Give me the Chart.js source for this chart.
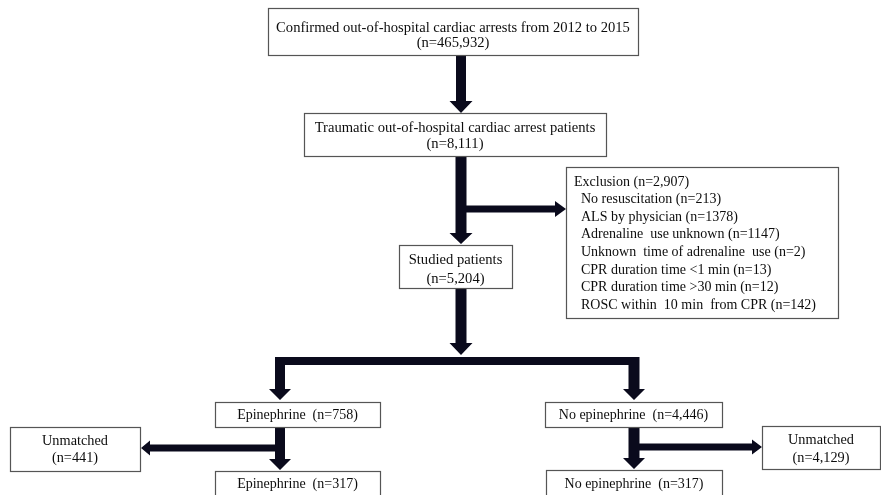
<!DOCTYPE html>
<html>
<head>
<meta charset="utf-8">
<script src="https://cdn.jsdelivr.net/npm/chart.js@4"></script>
<style>
  html, body { margin: 0; padding: 0; background: #fff; }
  #wrap { width: 881px; height: 495px; }
</style>
</head>
<body>
<div id="wrap"><canvas id="flowChart"></canvas></div>
<script>
// flow chart content
const boxTitles = [
    "Confirmed out-of-hospital cardiac arrests from 2012 to 2015",
    "Traumatic out-of-hospital cardiac arrest patients",
    "Studied patients",
    "Epinephrine",
    "No epinephrine",
    "Unmatched",
    "Epinephrine",
    "Unmatched",
    "No epinephrine"
];
const boxCounts = ["465,932", "8,111", "5,204", "758", "4,446", "441", "317", "4,129", "317"];
const exclusionTotal = "2,907";
const exclusionReasons = [
    "No resuscitation",
    "ALS by physician",
    "Adrenaline  use unknown",
    "Unknown  time of adrenaline  use",
    "CPR duration time <1 min",
    "CPR duration time >30 min",
    "ROSC within  10 min  from CPR"
];
const exclusionCounts = ["213", "1378", "1147", "2", "13", "12", "142"];

// layout (chart units, x 0..881, y 0..495 from the top)
const boxLayout = [
    {x0: 268, y0: 8, x1: 638, y1: 55, lines: [28, 43], size: 14.6},
    {x0: 304, y0: 113, x1: 606, y1: 156, lines: [128, 144], size: 14.6},
    {x0: 399, y0: 245, x1: 512, y1: 288, lines: [260, 279], size: 14.6},
    {x0: 215, y0: 402, x1: 380, y1: 427, lines: [415], size: 14},
    {x0: 545, y0: 402, x1: 722, y1: 427, lines: [415], size: 14},
    {x0: 10, y0: 427, x1: 140, y1: 471, lines: [441, 458], size: 14.3},
    {x0: 215, y0: 471, x1: 380, y1: 505, lines: [484], size: 14},
    {x0: 762, y0: 426, x1: 880, y1: 469, lines: [440, 458], size: 14.3},
    {x0: 546, y0: 470, x1: 722, y1: 505, lines: [484], size: 14}
];
const exclusionBox = {x0: 566, y0: 167, x1: 838, y1: 318, firstLine: 182, step: 17.6, indent: 574, subIndent: 581};

// arrows: from (x1,y1) to (x2,y2), shaft width, head width, head length (0 = no head)
const arrows = [
    {x1: 461, y1: 55, x2: 461, y2: 113, w: 10, hw: 23, hl: 12},
    {x1: 461, y1: 156, x2: 461, y2: 244, w: 11, hw: 23, hl: 11},
    {x1: 461, y1: 209, x2: 566, y2: 209, w: 7, hw: 16, hl: 11},
    {x1: 461, y1: 288, x2: 461, y2: 355, w: 11, hw: 23, hl: 12},
    {x1: 276, y1: 361, x2: 639, y2: 361, w: 8, hw: 0, hl: 0},
    {x1: 280, y1: 357, x2: 280, y2: 400, w: 10, hw: 22, hl: 11},
    {x1: 634, y1: 357, x2: 634, y2: 400, w: 11, hw: 22, hl: 11},
    {x1: 280, y1: 427, x2: 280, y2: 470, w: 10, hw: 22, hl: 11},
    {x1: 280, y1: 448, x2: 141, y2: 448, w: 7, hw: 15, hl: 9},
    {x1: 634, y1: 427, x2: 634, y2: 469, w: 11, hw: 22, hl: 11},
    {x1: 634, y1: 447, x2: 762, y2: 447, w: 7, hw: 15, hl: 10}
];

const fontFamily = "'Liberation Serif', 'Times New Roman', serif";

const flowPlugin = {
    id: "flow",
    afterDraw(chart) {
        const c = chart.ctx;
        const sx = chart.scales.x, sy = chart.scales.y;
        const px = v => sx.getPixelForValue(v);
        const py = v => sy.getPixelForValue(v);
        c.save();

        // arrows
        c.fillStyle = "#0a0a1c";
        arrows.forEach(a => {
            const x1 = px(a.x1), y1 = py(a.y1), x2 = px(a.x2), y2 = py(a.y2);
            const len = Math.hypot(x2 - x1, y2 - y1);
            const ux = (x2 - x1) / len, uy = (y2 - y1) / len;
            const nx = -uy, ny = ux;
            const bx = x2 - ux * a.hl, by = y2 - uy * a.hl;
            c.beginPath();
            c.moveTo(x1 + nx * a.w / 2, y1 + ny * a.w / 2);
            c.lineTo(bx + nx * a.w / 2, by + ny * a.w / 2);
            if (a.hl > 0) {
                c.lineTo(bx + nx * a.hw / 2, by + ny * a.hw / 2);
                c.lineTo(x2, y2);
                c.lineTo(bx - nx * a.hw / 2, by - ny * a.hw / 2);
            }
            c.lineTo(bx - nx * a.w / 2, by - ny * a.w / 2);
            c.lineTo(x1 - nx * a.w / 2, y1 - ny * a.w / 2);
            c.closePath();
            c.fill();
        });

        // boxes
        c.textBaseline = "middle";
        c.strokeStyle = "#555";
        c.lineWidth = 1.2;
        boxLayout.forEach((b, i) => {
            const x0 = px(b.x0), y0 = py(b.y0), x1 = px(b.x1), y1 = py(b.y1);
            c.fillStyle = "#fff";
            c.fillRect(x0, y0, x1 - x0, y1 - y0);
            c.strokeRect(x0 + 0.5, y0 + 0.5, x1 - x0, y1 - y0);
            c.fillStyle = "#0d0d0d";
            c.font = b.size + "px " + fontFamily;
            c.textAlign = "center";
            const cx = (x0 + x1) / 2;
            if (b.lines.length === 2) {
                c.fillText(boxTitles[i], cx, py(b.lines[0]));
                c.fillText("(n=" + boxCounts[i] + ")", cx, py(b.lines[1]));
            } else {
                c.fillText(boxTitles[i] + "  (n=" + boxCounts[i] + ")", cx, py(b.lines[0]));
            }
        });

        // exclusion box
        const e = exclusionBox;
        const ex0 = px(e.x0), ey0 = py(e.y0), ex1 = px(e.x1), ey1 = py(e.y1);
        c.fillStyle = "#fff";
        c.fillRect(ex0, ey0, ex1 - ex0, ey1 - ey0);
        c.strokeRect(ex0 + 0.5, ey0 + 0.5, ex1 - ex0, ey1 - ey0);
        c.fillStyle = "#0d0d0d";
        c.font = "14px " + fontFamily;
        c.textAlign = "left";
        c.fillText("Exclusion (n=" + exclusionTotal + ")", px(e.indent), py(e.firstLine));
        exclusionReasons.forEach((r, i) => {
            c.fillText(r + " (n=" + exclusionCounts[i] + ")", px(e.subIndent), py(e.firstLine + e.step * (i + 1)));
        });

        c.restore();
    }
};

const chart = new Chart(document.getElementById("flowChart"), {
    type: "scatter",
    data: {
        datasets: [{
            data: boxLayout.map(b => ({x: (b.x0 + b.x1) / 2, y: (b.y0 + b.y1) / 2})),
            pointRadius: 0,
            pointHoverRadius: 0
        }]
    },
    options: {
        responsive: true,
        maintainAspectRatio: false,
        animation: false,
        events: [],
        layout: {padding: 0},
        plugins: {
            legend: {display: false},
            tooltip: {enabled: false}
        },
        scales: {
            x: {type: "linear", min: 0, max: 881, display: false},
            y: {type: "linear", min: 0, max: 495, reverse: true, display: false}
        }
    },
    plugins: [flowPlugin]
});
</script>
</body>
</html>
